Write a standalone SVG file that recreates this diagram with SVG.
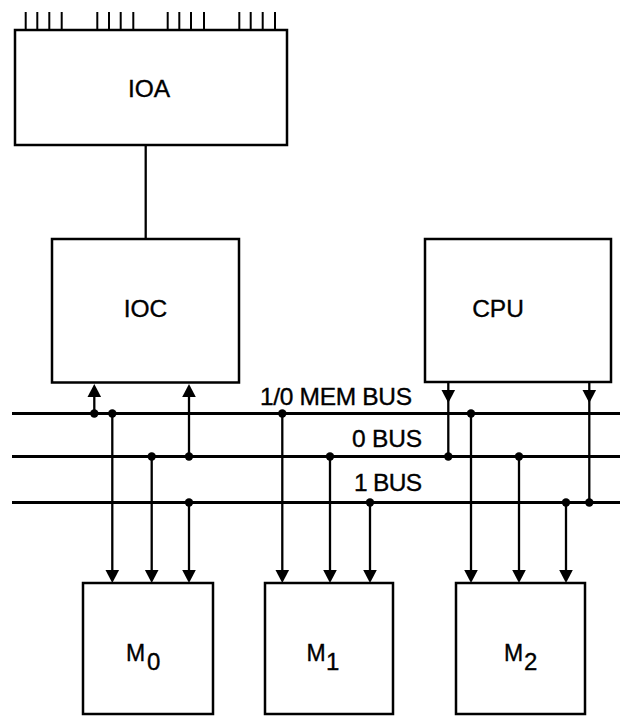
<svg xmlns="http://www.w3.org/2000/svg" width="620" height="716" viewBox="0 0 620 716">
<style>
.box{fill:#fff;stroke:#000;stroke-width:2.5}
.lbl{font-family:"Liberation Sans",Arial,sans-serif;font-size:24.5px;fill:#000;stroke:#000;stroke-width:0.35}
.bus{stroke:#000;stroke-width:2.8;fill:none}
.wire{stroke:#000;stroke-width:2.3;fill:none}
.tick{stroke:#000;stroke-width:2}
.dot{fill:#000}
.ah{fill:#000}
text.m{font-size:23px}
text.sub{font-size:24px}
</style>
<rect width="620" height="716" fill="#fff"/>
<g id="IOA">
<rect class="box" x="15" y="30" width="272" height="115"/>
<g class="tick">
<line x1="25.7" y1="12" x2="25.7" y2="30"/><line x1="37.3" y1="12" x2="37.3" y2="30"/><line x1="49.3" y1="12" x2="49.3" y2="30"/><line x1="61.7" y1="12" x2="61.7" y2="30"/>
<line x1="97.3" y1="12" x2="97.3" y2="30"/><line x1="109" y1="12" x2="109" y2="30"/><line x1="120.7" y1="12" x2="120.7" y2="30"/><line x1="133.3" y1="12" x2="133.3" y2="30"/>
<line x1="167.7" y1="12" x2="167.7" y2="30"/><line x1="179.3" y1="12" x2="179.3" y2="30"/><line x1="191" y1="12" x2="191" y2="30"/><line x1="204" y1="12" x2="204" y2="30"/>
<line x1="239.3" y1="12" x2="239.3" y2="30"/><line x1="250.7" y1="12" x2="250.7" y2="30"/><line x1="262.7" y1="12" x2="262.7" y2="30"/><line x1="275" y1="12" x2="275" y2="30"/>
</g>
<text class="lbl" x="149" y="96.5" text-anchor="middle">IOA</text>
</g>
<g id="IOC">
<rect class="box" x="52" y="239" width="187" height="143.5"/>
<text class="lbl" x="145.5" y="317" text-anchor="middle">IOC</text>
</g>
<g id="CPU">
<rect class="box" x="425" y="239" width="186" height="143"/>
<text class="lbl" x="498" y="317" text-anchor="middle">CPU</text>
</g>
<g id="M0">
<rect class="box" x="83" y="583" width="130" height="131"/>
<text class="lbl m" x="126" y="661">M</text>
<text class="lbl sub" x="147" y="670">0</text>
</g>
<g id="M1">
<rect class="box" x="265" y="583" width="128" height="131"/>
<text class="lbl m" x="306.5" y="661">M</text>
<text class="lbl sub" x="326" y="670">1</text>
</g>
<g id="M2">
<rect class="box" x="456" y="583" width="129" height="131"/>
<text class="lbl m" x="504" y="661">M</text>
<text class="lbl sub" x="524" y="670">2</text>
</g>
<g id="buses">
<line class="bus" x1="12" y1="413.5" x2="620" y2="413.5"/>
<line class="bus" x1="12" y1="456.5" x2="620" y2="456.5"/>
<line class="bus" x1="12" y1="502.5" x2="620" y2="502.5"/>
<text class="lbl" x="260" y="405" textLength="152">1/0 MEM BUS</text>
<text class="lbl" x="352" y="446.5" textLength="70">0 BUS</text>
<text class="lbl" x="354" y="491" textLength="68">1 BUS</text>
</g>
<g id="connectors">
<line class="wire" x1="145.7" y1="145" x2="145.7" y2="239"/>
<line class="wire" x1="94.3" y1="395" x2="94.3" y2="413.5"/>
<polygon class="ah" points="94.3,384 87.5,397 101.1,397"/>
<line class="wire" x1="189" y1="395" x2="189" y2="456.5"/>
<polygon class="ah" points="189,384 182.2,397 195.8,397"/>
<line class="wire" x1="448.3" y1="382" x2="448.3" y2="456.5"/>
<polygon class="ah" points="448.3,403 441.5,390 455.1,390"/>
<line class="wire" x1="589.3" y1="382" x2="589.3" y2="502.5"/>
<polygon class="ah" points="589.3,403 582.5,390 596.1,390"/>
<line class="wire" x1="112.3" y1="413.5" x2="112.3" y2="572"/>
<polygon class="ah" points="112.3,583 105.5,570 119.1,570"/>
<line class="wire" x1="151.7" y1="456.5" x2="151.7" y2="572"/>
<polygon class="ah" points="151.7,583 144.9,570 158.5,570"/>
<line class="wire" x1="189" y1="502.5" x2="189" y2="572"/>
<polygon class="ah" points="189,583 182.2,570 195.8,570"/>
<line class="wire" x1="282.3" y1="413.5" x2="282.3" y2="572"/>
<polygon class="ah" points="282.3,583 275.5,570 289.1,570"/>
<line class="wire" x1="330" y1="456.5" x2="330" y2="572"/>
<polygon class="ah" points="330,583 323.2,570 336.8,570"/>
<line class="wire" x1="370" y1="502.5" x2="370" y2="572"/>
<polygon class="ah" points="370,583 363.2,570 376.8,570"/>
<line class="wire" x1="471" y1="413.5" x2="471" y2="572"/>
<polygon class="ah" points="471,583 464.2,570 477.8,570"/>
<line class="wire" x1="519" y1="456.5" x2="519" y2="572"/>
<polygon class="ah" points="519,583 512.2,570 525.8,570"/>
<line class="wire" x1="566" y1="502.5" x2="566" y2="572"/>
<polygon class="ah" points="566,583 559.2,570 572.8,570"/>
<circle class="dot" cx="94.3" cy="413.5" r="4.2"/>
<circle class="dot" cx="112.3" cy="413.5" r="4.2"/>
<circle class="dot" cx="151.7" cy="456.5" r="4.2"/>
<circle class="dot" cx="189" cy="456.5" r="4.2"/>
<circle class="dot" cx="189" cy="502.5" r="4.2"/>
<circle class="dot" cx="282.3" cy="413.5" r="4.2"/>
<circle class="dot" cx="330" cy="456.5" r="4.2"/>
<circle class="dot" cx="370" cy="502.5" r="4.2"/>
<circle class="dot" cx="448.3" cy="456.5" r="4.2"/>
<circle class="dot" cx="471" cy="413.5" r="4.2"/>
<circle class="dot" cx="519" cy="456.5" r="4.2"/>
<circle class="dot" cx="566" cy="502.5" r="4.2"/>
<circle class="dot" cx="589.3" cy="502.5" r="4.2"/>
</g>
</svg>
